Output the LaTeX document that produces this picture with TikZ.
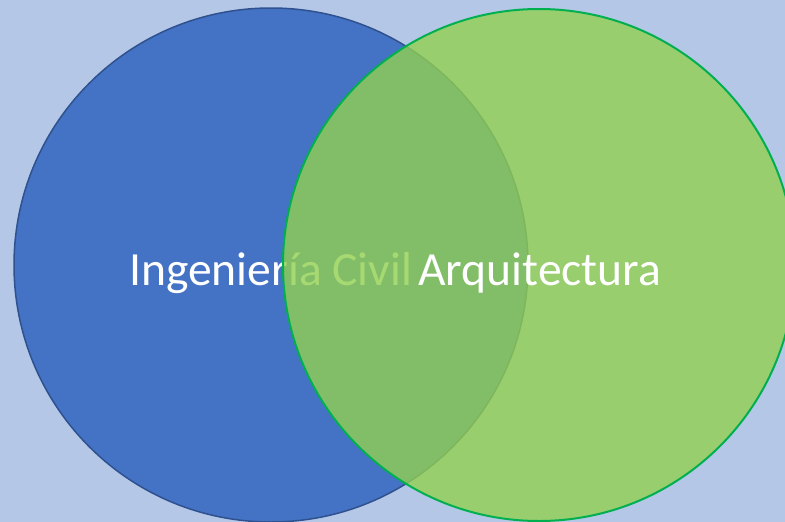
\documentclass[tikz,border=0pt]{standalone}
\usepackage{fontspec}
\setmainfont{Carlito}
\definecolor{bgc}{HTML}{B4C7E7}
\definecolor{bluef}{HTML}{4472C4}
\definecolor{blueb}{HTML}{2F528F}
\definecolor{greenf}{HTML}{92D050}
\definecolor{greenb}{HTML}{00B050}
\tikzset{
  lbl/.style={text=white, font=\fontsize{47.6}{50}\selectfont, anchor=base west, inner sep=0pt},
  setA/.style={circle, draw=blueb, line width=1.5pt, fill=bluef, minimum size=514pt, inner sep=0pt},
  setB/.style={circle, draw=greenb, line width=2pt, fill=greenf, fill opacity=0.8, minimum size=512pt, inner sep=0pt}
}
\begin{document}
\begin{tikzpicture}[x=1pt,y=-1pt]
\fill[bgc] (0,0) rectangle (785,522);
\useasboundingbox (0,0) rectangle (785,522);
\node[setA] (civ) at (271,265) {};
\node[lbl] (tciv) at (129,285) {Ingeniería Civil};
\node[setB] (arq) at (539,265) {};
\node[lbl] (tarq) at (418,285) {Arquitectura};
\end{tikzpicture}
\end{document}
